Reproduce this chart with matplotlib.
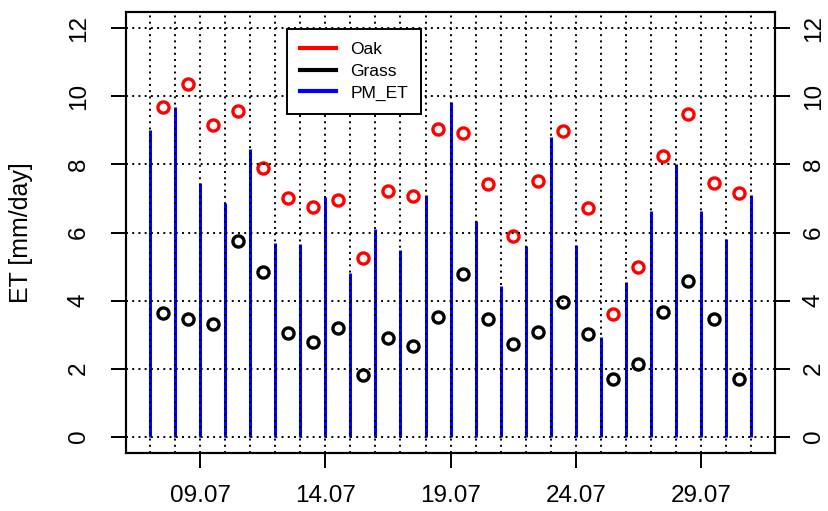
import numpy as np
import matplotlib
matplotlib.use("Agg")
import matplotlib.pyplot as plt
from matplotlib.lines import Line2D

plt.rcParams['font.family'] = ['Liberation Sans', 'DejaVu Sans']

# days of July
bar_days = np.arange(7, 32)
pm_et = [9.01, 9.70, 7.46, 6.86, 8.46, 5.69, 5.67, 7.05, 4.81, 6.09, 5.48, 7.11,
         9.83, 6.34, 4.44, 5.59, 8.82, 5.64, 2.93, 4.56, 6.62, 8.00, 6.62, 5.80, 7.11]

pt_days = np.arange(7, 31) + 0.5
oak = [9.70, 10.37, 9.17, 9.58, 7.89, 7.00, 6.74, 6.95, 5.26, 7.23, 7.08, 9.04,
       8.93, 7.43, 5.89, 7.50, 8.97, 6.71, 3.61, 4.98, 8.26, 9.47, 7.45, 7.15]
grass = [3.64, 3.47, 3.32, 5.74, 4.85, 3.06, 2.77, 3.18, 1.80, 2.89, 2.67, 3.53,
         4.78, 3.45, 2.72, 3.08, 3.95, 3.02, 1.70, 2.13, 3.67, 4.58, 3.47, 1.69]

xtick_days = [9, 14, 19, 24, 29]
xtick_labels = ["09.07", "14.07", "19.07", "24.07", "29.07"]
yticks = [0, 2, 4, 6, 8, 10, 12]

fig = plt.figure(figsize=(8.29, 5.11), dpi=100)
ax = fig.add_axes([0.152, 0.1135, 0.783, 0.863])

ax.vlines(bar_days, 0, pm_et, color="#0000ff", lw=2.2, zorder=2)
ax.plot(pt_days, oak, ls="none", marker="o", ms=8, mew=2.4, mfc="none",
        mec="#ff0000", zorder=3)
ax.plot(pt_days, grass, ls="none", marker="o", ms=8, mew=2.4, mfc="none",
        mec="black", zorder=3)

ax.set_xlim(6.04, 31.96)
ax.set_ylim(-0.48, 12.48)

# dotted grid on top of the bars
dots = (0, (1, 2.2))
for d in bar_days:
    ax.axvline(d, color="black", lw=1.4, ls=dots, zorder=4)
for y in yticks:
    ax.axhline(y, color="black", lw=1.4, ls=dots, zorder=4)

ax.set_xticks(xtick_days)
ax.set_xticklabels(xtick_labels)
ax.set_yticks(yticks)
ax.set_yticklabels([str(v) for v in yticks], rotation=90, va="center")
ax.tick_params(axis="both", direction="out", length=11, width=1.4,
               labelsize=17.5)
ax.tick_params(axis="x", pad=12)
ax.tick_params(axis="y", pad=15)
for sp in ax.spines.values():
    sp.set_linewidth(1.5)

# right-hand axis repeats the y scale
ax2 = ax.twinx()
ax2.set_ylim(ax.get_ylim())
ax2.set_yticks(yticks)
ax2.set_yticklabels([str(v) for v in yticks], rotation=90, va="center")
ax2.tick_params(axis="y", direction="out", length=11, width=1.4,
                labelsize=17.5, pad=9)
for sp in ax2.spines.values():
    sp.set_linewidth(1.5)

ax.set_ylabel("ET [mm/day]", fontsize=18, labelpad=25)

handles = [Line2D([], [], color="#ff0000", lw=3),
           Line2D([], [], color="black", lw=3),
           Line2D([], [], color="#0000ff", lw=3)]
leg = ax2.legend(handles, ["Oak", "Grass", "PM_ET"], loc="upper left",
                 bbox_to_anchor=(0.248, 0.962), fontsize=12.5, fancybox=False,
                 framealpha=1, edgecolor="black", borderpad=0.75,
                 handlelength=2.05, handletextpad=0.85, labelspacing=0.38,
                 borderaxespad=0)
leg.get_frame().set_linewidth(1.4)
leg.set_zorder(5)

fig.savefig("out.png", dpi=100)
